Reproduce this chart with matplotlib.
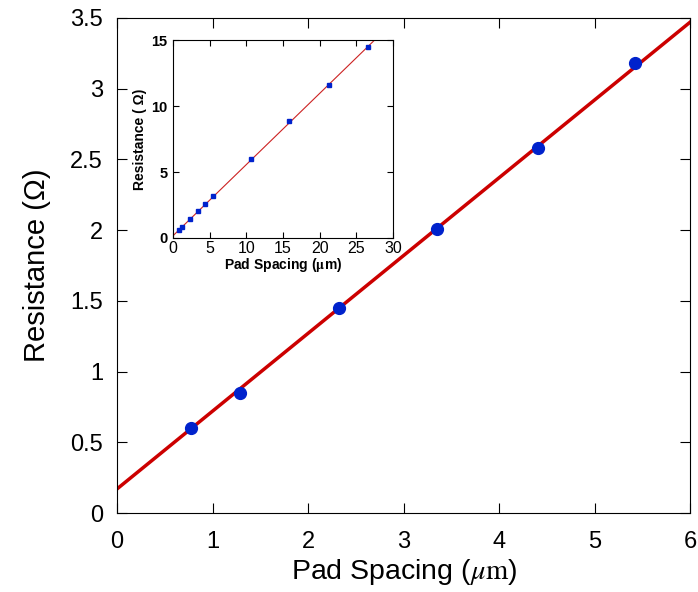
import matplotlib.pyplot as plt
import numpy as np

plt.rcParams['font.family'] = ['Liberation Sans', 'DejaVu Sans']
plt.rcParams['mathtext.fontset'] = 'stix'

# main panel data
spacing = [0.78, 1.29, 2.32, 3.35, 4.41, 5.42]
resistance = [0.60, 0.85, 1.45, 2.01, 2.58, 3.18]
fit_x = [0, 6]
fit_y = [0.17, 3.47]

# inset data
spacing_in = [0.78, 1.29, 2.32, 3.35, 4.41, 5.42, 10.6, 15.8, 21.3, 26.6]
resistance_in = [0.60, 0.85, 1.45, 2.01, 2.58, 3.18, 6.0, 8.9, 11.6, 14.5]
fit_in_x = [0, 27.5]
fit_in_y = [0.17, 15.0]

fig = plt.figure(figsize=(6.98, 5.92), dpi=100)
ax = fig.add_axes([117/698, 1-513/592, (690-117)/698, (513-18)/592])
ax.plot(fit_x, fit_y, color='#cc0000', lw=2.5, zorder=2)
ax.plot(spacing, resistance, 'o', color='#0022cc', ms=8.5, zorder=3)
ax.set_xlim(0, 6)
ax.set_ylim(0, 3.5)
ax.set_xticks(range(7))
ax.set_yticks(np.arange(0, 3.51, 0.5))
ax.set_yticklabels(['0', '0.5', '1', '1.5', '2', '2.5', '3', '3.5'])
ax.tick_params(direction='in', top=True, right=True, length=7, labelsize=17)
ax.tick_params(axis='x', pad=13)
ax.tick_params(axis='y', pad=10)
ax.set_xlabel(r'Pad Spacing ($\mu\mathrm{m}$)', fontsize=20.5, labelpad=3)
ax.set_ylabel('Resistance (\u03a9)', fontsize=21, labelpad=14)

axin = fig.add_axes([173/698, 1-238/592, (393-173)/698, (238-40)/592])
axin.plot(fit_in_x, fit_in_y, color='#cc2222', lw=0.8, zorder=2)
axin.plot(spacing_in, resistance_in, 's', color='#0022cc', ms=3.5, zorder=3)
axin.set_xlim(0, 30)
axin.set_ylim(0, 15)
axin.set_xticks(range(0, 31, 5))
axin.set_yticks([0, 5, 10, 15])
axin.tick_params(direction='in', top=True, right=True, length=4, pad=2)
axin.tick_params(axis='x', labelsize=11.5)
axin.tick_params(axis='y', labelsize=10.5, pad=4)
for lab in axin.get_yticklabels():
    lab.set_fontweight('bold')
axin.set_xlabel(r'Pad Spacing ($\mathbf{\mu}$m)', fontsize=10, fontweight='bold', labelpad=0)
axin.set_ylabel('Resistance ( \u03a9)', fontsize=10, fontweight='bold', labelpad=3)

fig.savefig('out.png', dpi=100)
